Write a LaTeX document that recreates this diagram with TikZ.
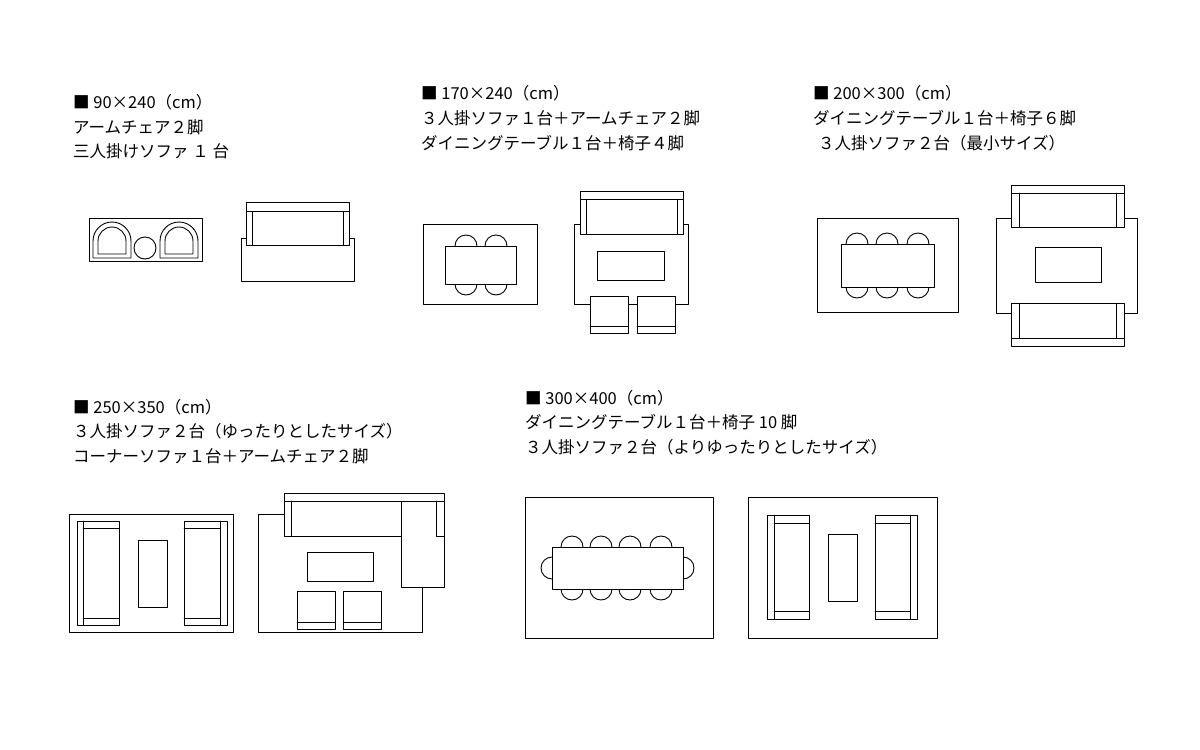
\documentclass[tikz,border=0pt]{standalone}
\usepackage{fontspec}
\setmainfont{Noto Sans CJK JP}
\usetikzlibrary{positioning}

\begin{document}
\begin{tikzpicture}[line cap=round,line join=round,x=1pt,y=-1pt,
  every node/.style={font=\fontsize{16.5}{16.5}\selectfont,anchor=west,inner sep=0pt},
  plan/.style={draw=black,line width=0.9pt,fill=white}]

\useasboundingbox (0,0) rectangle (1200,750);

% --- 90x240
\node (t1a) at (73,102) {■ 90×240（cm）};
\node (t1b) at (73,127) {アームチェア２脚};
\node (t1c) at (73,151) {三人掛けソファ １ 台};
\draw[plan] (89,218) rectangle (202,261);
\foreach \x in {93,160}{
  \draw[plan] (\x,258)--(\x,241) arc[start angle=180,end angle=360,radius=19]--(\x+38,258)--cycle;
  \draw[plan] (\x+5,254)--(\x+5,241) arc[start angle=180,end angle=360,radius=14]--(\x+33,254)--cycle;
}
\draw[plan] (145,248) circle (11);
\draw[plan] (241,238) rectangle (354,281);
\draw[plan] (246,202) rectangle (349,211);
\draw[plan] (246,211) rectangle (252,245);
\draw[plan] (343,211) rectangle (349,245);
\draw[plan] (252,211) rectangle (343,245);

% --- 170x240
\node (t2a) at (421,93) {■ 170×240（cm）};
\node (t2b) at (421,118) {３人掛ソファ１台＋アームチェア２脚};
\node (t2c) at (421,143) {ダイニングテーブル１台＋椅子４脚};
\draw[plan] (423,224) rectangle (537,304);
\foreach \x in {466,496}{
  \draw[plan] (\x-11,246) arc[start angle=180,end angle=360,radius=11];
  \draw[plan] (\x-11,284) arc[start angle=180,end angle=0,radius=11];
}
\draw[plan] (445,246) rectangle (516,284);
\draw[plan] (574,224) rectangle (688,304);
\draw[plan] (580,191) rectangle (683,199);
\draw[plan] (580,199) rectangle (586,234);
\draw[plan] (677,199) rectangle (683,234);
\draw[plan] (586,199) rectangle (677,234);
\draw[plan] (597,251) rectangle (664,280);
\foreach \x in {590,637}{
  \draw[plan] (\x,296) rectangle (\x+38,333);
  \draw (\x,326)--(\x+38,326);
}

% --- 200x300
\node (t3a) at (813,93) {■ 200×300（cm）};
\node (t3b) at (813,118) {ダイニングテーブル１台＋椅子６脚};
\node (t3c) at (818,143) {３人掛ソファ２台（最小サイズ）};
\draw[plan] (817,218) rectangle (958,312);
\foreach \x in {857,887,918}{
  \draw[plan] (\x-11,244) arc[start angle=180,end angle=360,radius=11];
  \draw[plan] (\x-11,287) arc[start angle=180,end angle=0,radius=11];
}
\draw[plan] (841,244) rectangle (934,287);
\draw[plan] (996,218) rectangle (1137,313);
\draw[plan] (1011,185) rectangle (1124,193);
\draw[plan] (1011,193) rectangle (1124,227);
\draw (1019,193)--(1019,227) (1116,193)--(1116,227);
\draw[plan] (1011,338) rectangle (1124,346);
\draw[plan] (1011,303) rectangle (1124,338);
\draw (1019,303)--(1019,338) (1116,303)--(1116,338);
\draw[plan] (1035,247) rectangle (1101,282);

% --- 250x350
\node (t4a) at (73,407) {■ 250×350（cm）};
\node (t4b) at (73,431) {３人掛ソファ２台（ゆったりとしたサイズ）};
\node (t4c) at (73,456) {コーナーソファ１台＋アームチェア２脚};
\draw[plan] (69,514) rectangle (233,632);
\draw[plan] (77,521) rectangle (119,625);
\draw (83,521)--(83,625) (83,528)--(119,528) (83,618)--(119,618);
\draw[plan] (184,521) rectangle (227,625);
\draw (220,521)--(220,625) (184,528)--(220,528) (184,618)--(220,618);
\draw[plan] (138,540) rectangle (167,607);
\draw[plan] (258,514) rectangle (422,632);
\draw[plan] (284,493) rectangle (444,501);
\draw[plan] (284,501) rectangle (401,536);
\draw (291,501)--(291,536);
\draw[plan] (401,501) rectangle (444,587);
\draw (436,501)--(436,536)--(444,536);
\draw[plan] (307,552) rectangle (373,581);
\foreach \x in {297,343}{
  \draw[plan] (\x,591) rectangle (\x+38,629);
  \draw (\x,622)--(\x+38,622);
}

% --- 300x400
\node (t5a) at (525,398) {■ 300×400（cm）};
\node (t5b) at (525,422) {ダイニングテーブル１台＋椅子 10 脚};
\node (t5c) at (525,447) {３人掛ソファ２台（よりゆったりとしたサイズ）};
\draw[plan] (525,497) rectangle (713,638);
\foreach \x in {572,601,630,661}{
  \draw[plan] (\x-11,547) arc[start angle=180,end angle=360,radius=11];
  \draw[plan] (\x-11,589) arc[start angle=180,end angle=0,radius=11];
}
\draw[plan] (552,557) arc[start angle=270,end angle=90,radius=11];
\draw[plan] (683,557) arc[start angle=270,end angle=450,radius=11];
\draw[plan] (552,547) rectangle (683,589);
\draw[plan] (748,497) rectangle (937,638);
\draw[plan] (767,515) rectangle (809,619);
\draw (774,515)--(774,619) (774,523)--(809,523) (774,611)--(809,611);
\draw[plan] (875,515) rectangle (917,619);
\draw (910,515)--(910,619) (875,523)--(910,523) (875,611)--(910,611);
\draw[plan] (828,534) rectangle (857,601);

\end{tikzpicture}
\end{document}
